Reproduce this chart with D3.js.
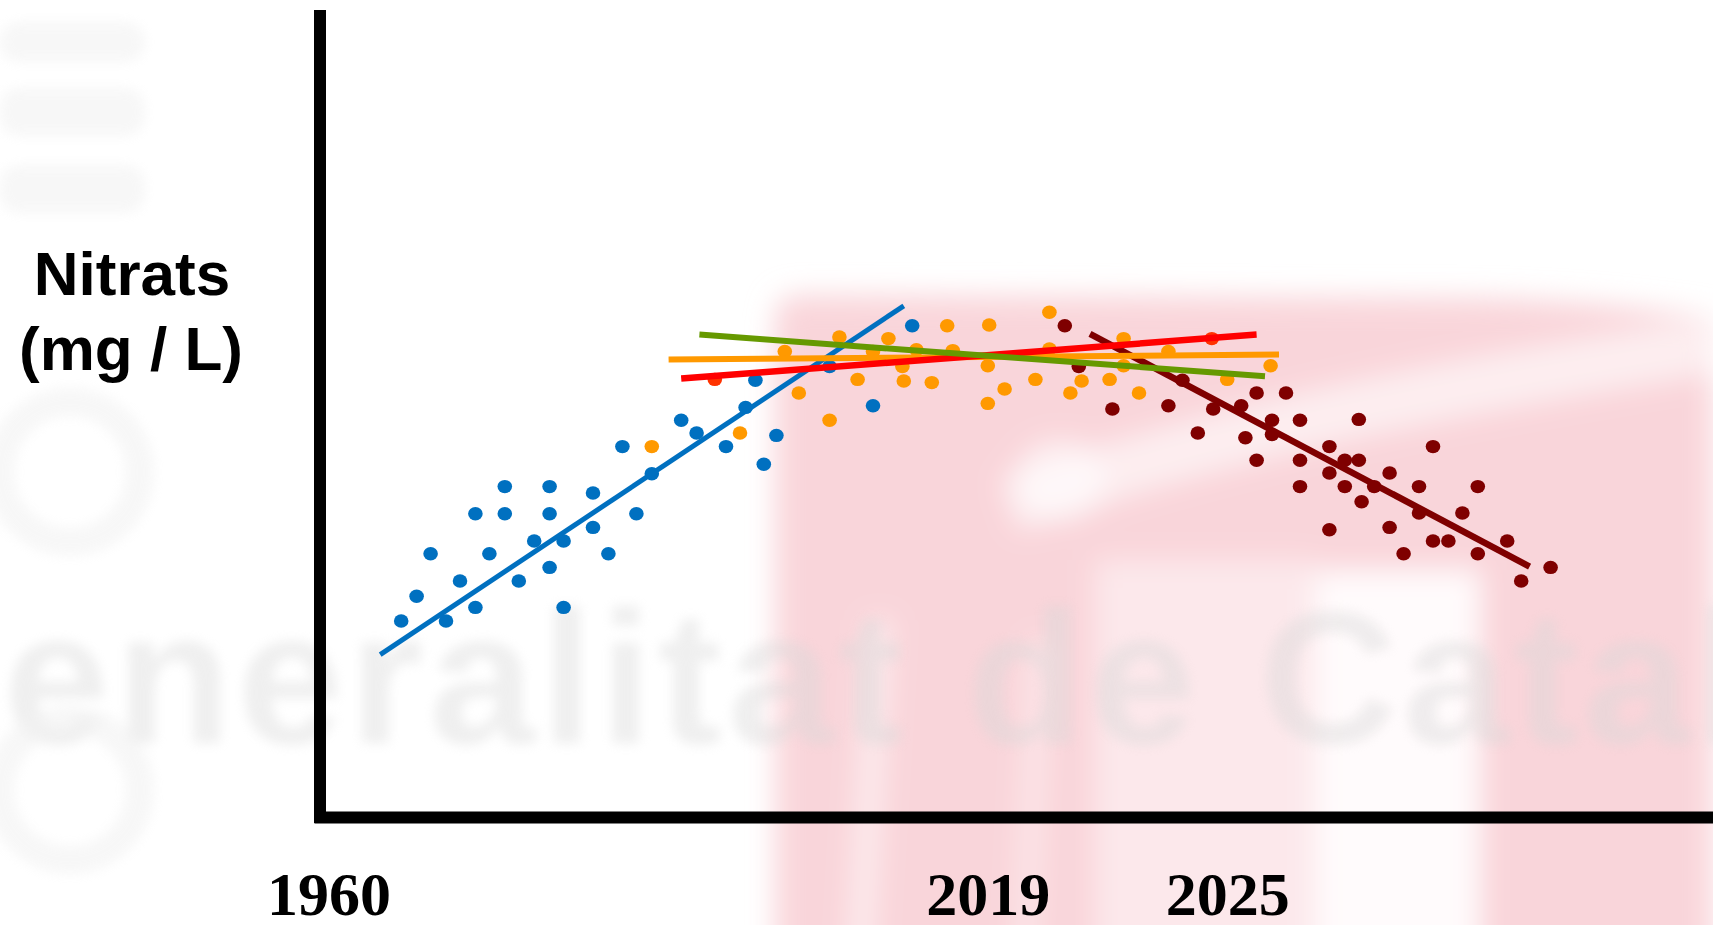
<!DOCTYPE html>
<html>
<head>
<meta charset="UTF-8">
<script src="https://d3js.org/d3.v7.min.js"></script>
<style>
  body { margin: 0; background: #fff; overflow: hidden; }
  .ylabel { font-family: "Liberation Sans", Arial, sans-serif; font-weight: bold; font-size: 62px; fill: #000; }
  .xaxis text { font-family: "Liberation Serif", "Times New Roman", serif; font-weight: bold; font-size: 62px; fill: #000; }
  .wm-text { font-family: "Liberation Sans", Arial, sans-serif; font-weight: bold; font-size: 190px; }
</style>
</head>
<body>
<svg id="chart" width="1713" height="925"></svg>
<script>
// values, in plot units (x 0-100, y 0-100)
const bluePoints = [[5.8,24.5],[6.9,27.6],[7.9,32.9],[9.0,24.5],[10.0,29.5],[11.1,26.2],[11.1,37.9],[12.1,32.9],
  [13.2,41.3],[13.2,37.9],[14.2,29.5],[15.3,34.5],[16.4,41.3],[16.4,37.9],[16.4,31.2],[17.4,34.5],[17.4,26.2],
  [19.5,40.5],[19.5,36.2],[20.6,32.9],[21.6,46.3],[22.6,37.9],[23.7,42.9],[25.8,49.6],[26.9,48.0],[29.0,46.3],
  [30.4,51.2],[31.1,54.6],[31.7,44.1],[32.6,47.7],[36.4,56.3],[39.5,51.4],[42.3,61.4]];
const orangePoints = [[23.7,46.3],[30.0,48.0],[33.2,58.2],[34.2,53.0],[36.4,49.6],[37.1,60.0],[38.4,54.7],
  [39.5,58.2],[40.6,59.8],[41.6,56.3],[41.7,54.5],[42.6,58.4],[43.7,54.3],[44.8,61.4],[45.2,58.3],[47.8,61.5],
  [47.7,56.4],[47.7,51.7],[48.9,53.5],[51.1,54.7],[52.1,63.1],[52.1,58.5],[53.6,53.0],[54.4,54.5],[56.4,54.7],
  [57.4,59.8],[57.4,56.4],[58.5,53.0],[60.6,58.2],[64.8,54.7],[67.9,56.4]];
const redPoints = [[28.2,54.7],[63.7,59.8]];
const darkRedPoints = [[53.2,61.4],[54.2,56.3],[56.6,51.0],[60.6,51.4],[61.6,54.6],[62.7,48.0],[63.8,51.0],
  [65.8,51.4],[66.1,47.4],[66.9,53.0],[66.9,44.6],[68.0,49.6],[68.0,47.8],[69.0,53.0],[70.0,49.6],[70.0,44.6],
  [70.0,41.3],[72.1,46.3],[72.1,43.0],[72.1,35.9],[73.2,44.6],[73.2,41.3],[74.2,49.7],[74.2,44.6],[74.4,39.4],
  [75.3,41.3],[76.4,43.0],[76.4,36.2],[77.4,32.9],[78.5,41.3],[78.5,38.0],[79.5,46.3],[79.5,34.5],[80.6,34.5],
  [81.6,38.0],[82.7,41.3],[82.7,32.9],[84.8,34.5],[85.8,29.5],[87.9,31.2]];

// trend lines: start and end
const blueTrend = [[4.3,20.3],[41.7,63.9]];
const orangeTrend = [[24.9,57.2],[68.5,57.8]];
const redTrend = [[25.8,54.8],[66.9,60.3]];
const greenTrend = [[27.1,60.3],[67.5,55.1]];
const darkRedTrend = [[55.0,60.4],[86.4,31.3]];

const yearLabels = ["1960", "2019", "2025"];
const yearPos = [0.6, 47.7, 64.8];

const svg = d3.select("#chart");
const width = +svg.attr("width");
const height = +svg.attr("height");

const x = d3.scaleLinear().domain([0, 100]).range([320, 1720]);
const y = d3.scaleLinear().domain([0, 100]).range([817, 17]);

// faded logo watermark in the background
const defs = svg.append("defs");
defs.append("filter").attr("id", "blur")
  .attr("filterUnits", "userSpaceOnUse").attr("x", 0).attr("y", 0).attr("width", width).attr("height", height)
  .append("feGaussianBlur").attr("stdDeviation", 14);
defs.append("filter").attr("id", "blur2")
  .attr("filterUnits", "userSpaceOnUse").attr("x", -200).attr("y", 0).attr("width", width + 400).attr("height", height)
  .append("feGaussianBlur").attr("stdDeviation", 6);

let wm = svg.append("g").attr("filter", "url(#blur)");
wm.append("path")
  .attr("d", "M775,320 Q775,295 800,295 L1470,298 Q1600,300 1713,318 L1713,960 L775,960 Z")
  .attr("fill", "#f9d5da");
wm.append("path")
  .attr("d", "M1713,345 C1500,380 1250,420 1010,505")
  .attr("fill", "none").attr("stroke", "#fff").attr("stroke-width", 55).attr("opacity", 0.6);
wm.append("rect").attr("x", 1315).attr("y", 570).attr("width", 165).attr("height", 400).attr("fill", "#fff").attr("opacity", 0.9);
wm.append("rect").attr("x", 1095).attr("y", 560).attr("width", 220).attr("height", 400).attr("fill", "#fff").attr("opacity", 0.45);
wm.append("path").attr("d", "M880,620 L860,960").attr("stroke", "#fff").attr("stroke-width", 22).attr("opacity", 0.6);
wm.append("path").attr("d", "M1040,640 L1025,960").attr("stroke", "#fff").attr("stroke-width", 18).attr("opacity", 0.5);
wm.append("ellipse").attr("cx", 1060).attr("cy", 480).attr("rx", 45).attr("ry", 40).attr("fill", "#fff").attr("opacity", 0.6);

let wmGrey = svg.append("g").attr("filter", "url(#blur2)").attr("opacity", 0.4);
wmGrey.append("text").attr("class", "wm-text")
  .attr("x", -150).attr("y", 743)
  .attr("letter-spacing", 6)
  .attr("fill", "#d8d8d8")
  .text("Generalitat de Catalunya");
[[22, 40], [88, 48], [165, 48]].forEach(b => {
  wmGrey.append("rect").attr("x", 0).attr("y", b[0]).attr("width", 145).attr("height", b[1]).attr("rx", 20)
    .attr("fill", "#e0e0e0").attr("opacity", 0.6);
});
[472, 790].forEach(cy => {
  wmGrey.append("circle").attr("cx", 70).attr("cy", cy).attr("r", 70)
    .attr("fill", "none").attr("stroke", "#e0e0e0").attr("stroke-width", 28).attr("opacity", 0.6);
});

// scatter points
const scatter = svg.append("g");
function drawPoints(data, color) {
  scatter.selectAll(null).data(data).enter().append("ellipse")
    .attr("cx", d => x(d[0]))
    .attr("cy", d => y(d[1]))
    .attr("rx", 7.3)
    .attr("ry", 6.7)
    .attr("fill", color);
}
drawPoints(bluePoints, "#0070c0");
drawPoints(orangePoints, "#ff9900");
drawPoints(redPoints, "#ff3300");
drawPoints(darkRedPoints, "#7f0000");

// trend lines
const line = d3.line().x(d => x(d[0])).y(d => y(d[1]));
function drawTrend(data, color, w) {
  svg.append("path").datum(data)
    .attr("d", line)
    .attr("fill", "none")
    .attr("stroke", color)
    .attr("stroke-width", w);
}
drawTrend(darkRedTrend, "#7f0000", 6.5);
drawTrend(blueTrend, "#0070c0", 5);
drawTrend(orangeTrend, "#ff9900", 6);
drawTrend(redTrend, "#ff0000", 6.5);
drawTrend(greenTrend, "#669900", 6);

// axes
let leftAxis = d3.axisLeft(y).tickValues([]).tickSizeOuter(0);
svg.append("g")
   .attr("class", "yaxis")
   .attr("transform", "translate(" + x(0) + ",0)")
   .call(leftAxis);

let bottomAxis = d3.axisBottom(x).tickValues(yearPos).tickFormat((d, i) => yearLabels[i])
   .tickSize(0).tickSizeOuter(0).tickPadding(54);
svg.append("g")
   .attr("class", "xaxis")
   .attr("transform", "translate(0," + y(0) + ")")
   .call(bottomAxis);

svg.selectAll(".yaxis .domain, .xaxis .domain")
   .attr("stroke", "#000")
   .attr("stroke-width", 12)
   .attr("stroke-linecap", "square");
svg.select(".yaxis .domain").attr("d", "M0," + y(0) + "V" + (y(100) - 1));

// y label
svg.append("text").attr("class", "ylabel")
   .attr("x", 132).attr("y", 295).attr("text-anchor", "middle").text("Nitrats");
svg.append("text").attr("class", "ylabel")
   .attr("x", 131).attr("y", 370).attr("text-anchor", "middle").text("(mg / L)");
</script>
</body>
</html>
